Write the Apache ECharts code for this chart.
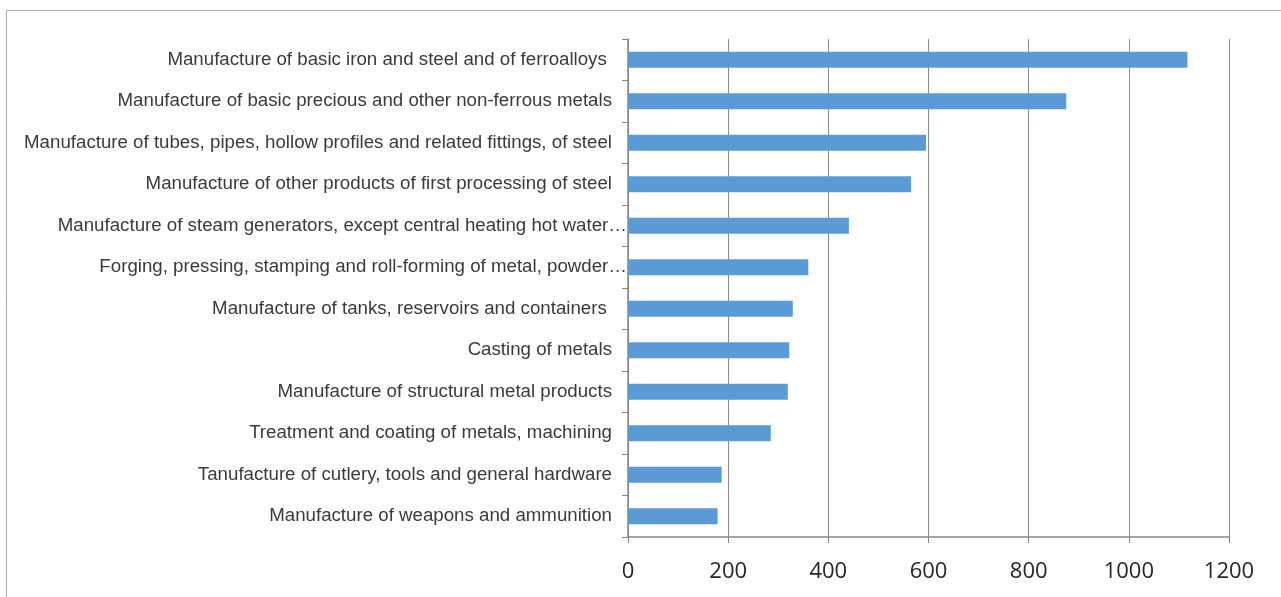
<!DOCTYPE html>
<html>
<head>
<meta charset="utf-8">
<script src="https://cdn.jsdelivr.net/npm/echarts@6/dist/echarts.min.js"></script>
<style>
html,body{margin:0;padding:0;background:#fff;}
#chart{width:1281px;height:597px;}
</style>
</head>
<body>
<div id="chart"></div>
<script>
const categories = [
  "Manufacture of basic iron and steel and of ferroalloys ",
  "Manufacture of basic precious and other non-ferrous metals",
  "Manufacture of tubes, pipes, hollow profiles and related fittings, of steel",
  "Manufacture of other products of first processing of steel",
  "Manufacture of steam generators, except central heating hot water\u2026",
  "Forging, pressing, stamping and roll-forming of metal, powder\u2026",
  "Manufacture of tanks, reservoirs and containers ",
  "Casting of metals",
  "Manufacture of structural metal products",
  "Treatment and coating of metals, machining",
  "Tanufacture of cutlery, tools and general hardware",
  "Manufacture of weapons and ammunition"
];
const values = [1117, 875, 595, 565, 441, 360, 329, 322, 319, 285, 187, 179];
const xTicks = [0, 200, 400, 600, 800, 1000, 1200];

const chart = echarts.init(document.getElementById('chart'), null, {renderer: 'canvas'});
chart.setOption({
  animation: false,
  backgroundColor: '#ffffff',
  grid: {left: 628, right: 52, top: 39, bottom: 60, containLabel: false},
  graphic: [{
    type: 'polyline',
    shape: {points: [[6.5, 597], [6.5, 10.5], [1281, 10.5]]},
    style: {stroke: '#a6a6a6', lineWidth: 1, fill: null},
    silent: true
  }],
  xAxis: {
    type: 'value',
    min: xTicks[0],
    max: xTicks[xTicks.length - 1],
    interval: xTicks[1] - xTicks[0],
    axisLine: {show: true, lineStyle: {color: '#868686', width: 1.5}},
    axisTick: {show: true, length: 6, lineStyle: {color: '#868686'}},
    splitLine: {show: true, lineStyle: {color: '#8c8c8c', width: 1}},
    axisLabel: {
      margin: 24,
      fontFamily: 'Open Sans',
      fontSize: 22,
      color: '#262626',
      formatter: function (v) { return String(v); }
    }
  },
  yAxis: {
    type: 'category',
    data: categories,
    inverse: true,
    axisLine: {show: true, lineStyle: {color: '#868686', width: 1.5}},
    axisTick: {show: true, length: 6, lineStyle: {color: '#868686'}},
    axisLabel: {
      margin: 1,
      interval: 0,
      fontFamily: 'Liberation Sans',
      fontSize: 18.7,
      color: '#3a3a3a',
      formatter: function (v) {
        return v.endsWith('\u2026') ? '{t|' + v + '}' : '{n|' + v + '}';
      },
      rich: {
        n: {fontFamily: 'Liberation Sans', fontSize: 18.7, color: '#3a3a3a', padding: [0, 15, 0, 0]},
        t: {fontFamily: 'Liberation Sans', fontSize: 18.7, color: '#3a3a3a', padding: [0, 0, 0, 0]}
      }
    }
  },
  series: [{
    type: 'bar',
    data: values,
    barWidth: 16,
    itemStyle: {color: '#5b9bd5'},
    silent: true
  }]
});
</script>
</body>
</html>
